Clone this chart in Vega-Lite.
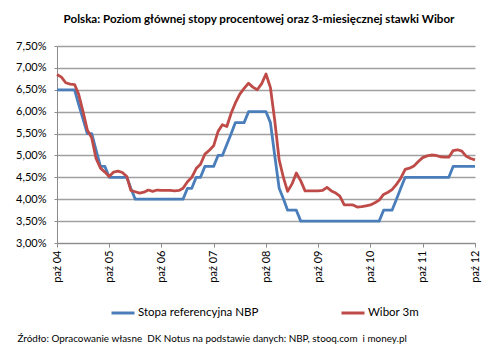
{
  "$schema": "https://vega.github.io/schema/vega-lite/v6.json",
  "width": 418,
  "height": 197,
  "autosize": "none",
  "padding": {"left": 57, "top": 46, "right": 25, "bottom": 113},
  "background": "#ffffff",
  "title": {
    "text": "Polska: Poziom głównej stopy procentowej oraz 3-miesięcznej stawki Wibor",
    "font": "Lato",
    "fontSize": 11.6,
    "fontWeight": "bold",
    "color": "#000000",
    "anchor": "middle",
    "baseline": "alphabetic",
    "offset": 5,
    "dx": -7
  },
  "data": {
    "values": [
      {"month": "2004-10-01", "nbp": 6.5, "wibor": 6.85},
      {"month": "2004-11-01", "nbp": 6.5, "wibor": 6.79},
      {"month": "2004-12-01", "nbp": 6.5, "wibor": 6.66},
      {"month": "2005-01-01", "nbp": 6.5, "wibor": 6.63},
      {"month": "2005-02-01", "nbp": 6.5, "wibor": 6.62},
      {"month": "2005-03-01", "nbp": 6.17, "wibor": 6.4},
      {"month": "2005-04-01", "nbp": 5.83, "wibor": 6.0},
      {"month": "2005-05-01", "nbp": 5.5, "wibor": 5.58},
      {"month": "2005-06-01", "nbp": 5.5, "wibor": 5.4},
      {"month": "2005-07-01", "nbp": 5.12, "wibor": 4.93},
      {"month": "2005-08-01", "nbp": 4.75, "wibor": 4.71},
      {"month": "2005-09-01", "nbp": 4.75, "wibor": 4.62},
      {"month": "2005-10-01", "nbp": 4.5, "wibor": 4.52},
      {"month": "2005-11-01", "nbp": 4.5, "wibor": 4.62},
      {"month": "2005-12-01", "nbp": 4.5, "wibor": 4.64},
      {"month": "2006-01-01", "nbp": 4.5, "wibor": 4.61},
      {"month": "2006-02-01", "nbp": 4.5, "wibor": 4.52},
      {"month": "2006-03-01", "nbp": 4.25, "wibor": 4.2},
      {"month": "2006-04-01", "nbp": 4.0, "wibor": 4.17},
      {"month": "2006-05-01", "nbp": 4.0, "wibor": 4.14},
      {"month": "2006-06-01", "nbp": 4.0, "wibor": 4.16},
      {"month": "2006-07-01", "nbp": 4.0, "wibor": 4.21},
      {"month": "2006-08-01", "nbp": 4.0, "wibor": 4.18},
      {"month": "2006-09-01", "nbp": 4.0, "wibor": 4.21},
      {"month": "2006-10-01", "nbp": 4.0, "wibor": 4.2},
      {"month": "2006-11-01", "nbp": 4.0, "wibor": 4.2},
      {"month": "2006-12-01", "nbp": 4.0, "wibor": 4.2},
      {"month": "2007-01-01", "nbp": 4.0, "wibor": 4.19},
      {"month": "2007-02-01", "nbp": 4.0, "wibor": 4.2},
      {"month": "2007-03-01", "nbp": 4.0, "wibor": 4.25},
      {"month": "2007-04-01", "nbp": 4.25, "wibor": 4.4},
      {"month": "2007-05-01", "nbp": 4.25, "wibor": 4.5},
      {"month": "2007-06-01", "nbp": 4.5, "wibor": 4.7},
      {"month": "2007-07-01", "nbp": 4.5, "wibor": 4.8},
      {"month": "2007-08-01", "nbp": 4.75, "wibor": 5.03},
      {"month": "2007-09-01", "nbp": 4.75, "wibor": 5.12},
      {"month": "2007-10-01", "nbp": 4.75, "wibor": 5.22},
      {"month": "2007-11-01", "nbp": 5.0, "wibor": 5.55},
      {"month": "2007-12-01", "nbp": 5.0, "wibor": 5.7},
      {"month": "2008-01-01", "nbp": 5.25, "wibor": 5.66},
      {"month": "2008-02-01", "nbp": 5.5, "wibor": 5.97},
      {"month": "2008-03-01", "nbp": 5.75, "wibor": 6.2},
      {"month": "2008-04-01", "nbp": 5.75, "wibor": 6.4},
      {"month": "2008-05-01", "nbp": 5.75, "wibor": 6.53},
      {"month": "2008-06-01", "nbp": 6.0, "wibor": 6.65},
      {"month": "2008-07-01", "nbp": 6.0, "wibor": 6.56},
      {"month": "2008-08-01", "nbp": 6.0, "wibor": 6.5},
      {"month": "2008-09-01", "nbp": 6.0, "wibor": 6.64},
      {"month": "2008-10-01", "nbp": 6.0, "wibor": 6.86},
      {"month": "2008-11-01", "nbp": 5.75, "wibor": 6.55},
      {"month": "2008-12-01", "nbp": 5.0, "wibor": 5.8},
      {"month": "2009-01-01", "nbp": 4.25, "wibor": 4.9},
      {"month": "2009-02-01", "nbp": 4.0, "wibor": 4.48},
      {"month": "2009-03-01", "nbp": 3.75, "wibor": 4.18},
      {"month": "2009-04-01", "nbp": 3.75, "wibor": 4.35},
      {"month": "2009-05-01", "nbp": 3.75, "wibor": 4.6},
      {"month": "2009-06-01", "nbp": 3.5, "wibor": 4.42},
      {"month": "2009-07-01", "nbp": 3.5, "wibor": 4.19},
      {"month": "2009-08-01", "nbp": 3.5, "wibor": 4.19},
      {"month": "2009-09-01", "nbp": 3.5, "wibor": 4.19},
      {"month": "2009-10-01", "nbp": 3.5, "wibor": 4.19},
      {"month": "2009-11-01", "nbp": 3.5, "wibor": 4.2},
      {"month": "2009-12-01", "nbp": 3.5, "wibor": 4.27},
      {"month": "2010-01-01", "nbp": 3.5, "wibor": 4.19},
      {"month": "2010-02-01", "nbp": 3.5, "wibor": 4.14},
      {"month": "2010-03-01", "nbp": 3.5, "wibor": 4.07},
      {"month": "2010-04-01", "nbp": 3.5, "wibor": 3.87},
      {"month": "2010-05-01", "nbp": 3.5, "wibor": 3.87},
      {"month": "2010-06-01", "nbp": 3.5, "wibor": 3.87},
      {"month": "2010-07-01", "nbp": 3.5, "wibor": 3.82},
      {"month": "2010-08-01", "nbp": 3.5, "wibor": 3.83},
      {"month": "2010-09-01", "nbp": 3.5, "wibor": 3.85},
      {"month": "2010-10-01", "nbp": 3.5, "wibor": 3.87},
      {"month": "2010-11-01", "nbp": 3.5, "wibor": 3.92},
      {"month": "2010-12-01", "nbp": 3.5, "wibor": 3.98},
      {"month": "2011-01-01", "nbp": 3.75, "wibor": 4.11},
      {"month": "2011-02-01", "nbp": 3.75, "wibor": 4.16},
      {"month": "2011-03-01", "nbp": 3.75, "wibor": 4.22},
      {"month": "2011-04-01", "nbp": 4.0, "wibor": 4.34},
      {"month": "2011-05-01", "nbp": 4.25, "wibor": 4.48},
      {"month": "2011-06-01", "nbp": 4.5, "wibor": 4.68},
      {"month": "2011-07-01", "nbp": 4.5, "wibor": 4.71},
      {"month": "2011-08-01", "nbp": 4.5, "wibor": 4.76},
      {"month": "2011-09-01", "nbp": 4.5, "wibor": 4.86},
      {"month": "2011-10-01", "nbp": 4.5, "wibor": 4.95},
      {"month": "2011-11-01", "nbp": 4.5, "wibor": 4.99},
      {"month": "2011-12-01", "nbp": 4.5, "wibor": 5.01},
      {"month": "2012-01-01", "nbp": 4.5, "wibor": 5.0},
      {"month": "2012-02-01", "nbp": 4.5, "wibor": 4.97},
      {"month": "2012-03-01", "nbp": 4.5, "wibor": 4.96},
      {"month": "2012-04-01", "nbp": 4.5, "wibor": 4.96},
      {"month": "2012-05-01", "nbp": 4.75, "wibor": 5.11},
      {"month": "2012-06-01", "nbp": 4.75, "wibor": 5.13},
      {"month": "2012-07-01", "nbp": 4.75, "wibor": 5.1},
      {"month": "2012-08-01", "nbp": 4.75, "wibor": 4.98},
      {"month": "2012-09-01", "nbp": 4.75, "wibor": 4.93},
      {"month": "2012-10-01", "nbp": 4.75, "wibor": 4.9}
    ]
  },
  "transform": [
    {"fold": ["nbp", "wibor"], "as": ["series", "rate"]}
  ],
  "mark": {"type": "line", "strokeWidth": 2.8, "strokeJoin": "round", "strokeCap": "butt"},
  "encoding": {
    "x": {
      "field": "month",
      "type": "temporal",
      "scale": {
        "type": "utc",
        "nice": false,
        "domain": [
          {"year": 2004, "month": 10, "date": 1, "utc": true},
          {"year": 2012, "month": 10, "date": 1, "utc": true}
        ]
      },
      "axis": {
        "values": [
          {"year": 2004, "month": 10, "date": 1, "utc": true},
          {"year": 2005, "month": 10, "date": 1, "utc": true},
          {"year": 2006, "month": 10, "date": 1, "utc": true},
          {"year": 2007, "month": 10, "date": 1, "utc": true},
          {"year": 2008, "month": 10, "date": 1, "utc": true},
          {"year": 2009, "month": 10, "date": 1, "utc": true},
          {"year": 2010, "month": 10, "date": 1, "utc": true},
          {"year": 2011, "month": 10, "date": 1, "utc": true},
          {"year": 2012, "month": 10, "date": 1, "utc": true}
        ],
        "labelExpr": "'paź ' + utcFormat(datum.value, '%y')",
        "labelAngle": -90,
        "labelAlign": "right",
        "labelBaseline": "middle",
        "labelFont": "Lato",
        "labelFontSize": 11,
        "labelColor": "#000000",
        "labelPadding": 3,
        "labelFlush": false,
        "labelOverlap": false,
        "grid": false,
        "domainColor": "#8c8c8c",
        "domainWidth": 1,
        "ticks": true,
        "tickSize": 4,
        "tickColor": "#8c8c8c",
        "title": "Źródło: Opracowanie własne\u00a0 DK Notus na podstawie danych: NBP, stooq.com\u00a0 i money.pl",
        "titleFont": "Lato",
        "titleFontSize": 9.9,
        "titleFontWeight": "normal",
        "titleColor": "#000000",
        "titleAnchor": "start",
        "titleAlign": "left",
        "titleBaseline": "alphabetic",
        "titleX": -40,
        "titleY": 98
      }
    },
    "y": {
      "field": "rate",
      "type": "quantitative",
      "scale": {"domain": [3, 7.5], "nice": false, "zero": false},
      "axis": {
        "values": [3, 3.5, 4, 4.5, 5, 5.5, 6, 6.5, 7, 7.5],
        "labelExpr": "replace(format(datum.value, '.2f'), '.', ',') + '%'",
        "labelFont": "Lato",
        "labelFontSize": 11,
        "labelColor": "#000000",
        "labelPadding": 8,
        "grid": true,
        "gridColor": "#a0a0a0",
        "gridWidth": 1.3,
        "domainColor": "#8c8c8c",
        "tickColor": "#8c8c8c",
        "tickSize": 3,
        "title": null
      }
    },
    "color": {
      "field": "series",
      "type": "nominal",
      "scale": {"domain": ["nbp", "wibor"], "range": ["#4a7ebb", "#be4b48"]},
      "legend": {
        "orient": "none",
        "direction": "horizontal",
        "legendX": 53,
        "legendY": 254,
        "title": null,
        "symbolType": "stroke",
        "symbolSize": 529,
        "symbolStrokeWidth": 3,
        "labelOffset": 2,
        "labelFont": "Lato",
        "labelFontSize": 11.5,
        "labelColor": "#000000",
        "columnPadding": 76,
        "labelExpr": "datum.value == 'nbp' ? 'Stopa referencyjna NBP' : 'Wibor 3m'"
      }
    }
  },
  "config": {
    "view": {"stroke": null},
    "font": "Lato"
  }
}
